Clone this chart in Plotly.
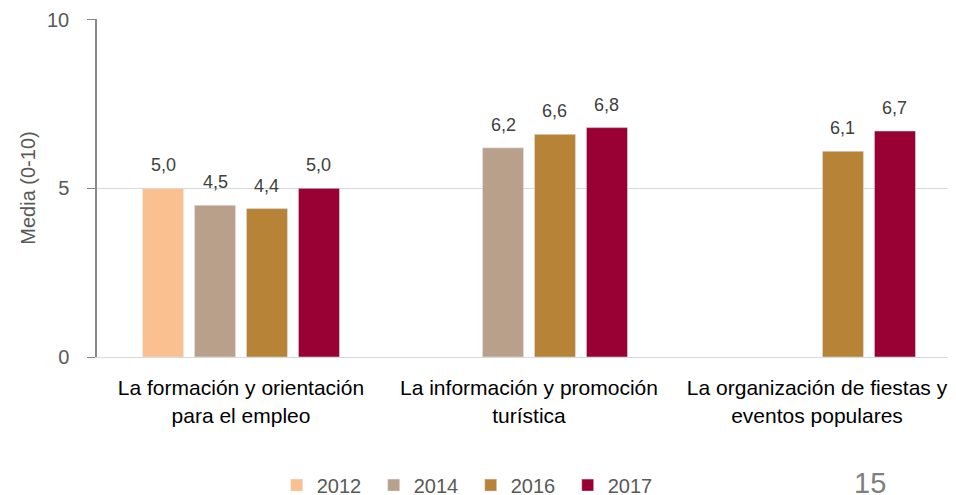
import plotly.graph_objects as go

categories = ["La formación y orientación<br>para el empleo",
              "La información y promoción<br>turística",
              "La organización de fiestas y<br>eventos populares"]
years = ["2012", "2014", "2016", "2017"]
values = {
    "2012": [5.0, None, None],
    "2014": [4.5, 6.2, None],
    "2016": [4.4, 6.6, 6.1],
    "2017": [5.0, 6.8, 6.7],
}
colors = {"2012": "#FAC090", "2014": "#B8A08A", "2016": "#B78336", "2017": "#990033"}

FONT = "Liberation Sans"

# page has 8px body margin, so the figure is shifted by 8px
W, H = 953, 510
ML, MR, MT, MB = 89, 0, 11, 161
BARGAP = 0.278

fig = go.Figure()
for yr in years:
    fig.add_trace(go.Bar(
        name=yr, x=categories, y=values[yr],
        marker=dict(color=colors[yr]),
    ))

# data labels above the bars
cat_w = (W - ML - MR) / len(categories)
slot = (1 - BARGAP) * cat_w / len(years)
for i, yr in enumerate(years):
    for cat, v in zip(categories, values[yr]):
        if v is None:
            continue
        fig.add_annotation(x=cat, y=v, xref="x", yref="y",
                           text=f"{v:.1f}".replace(".", ","),
                           xshift=(i - (len(years) - 1) / 2) * slot, yshift=11,
                           yanchor="bottom", showarrow=False,
                           font=dict(size=18, color="#404040", family=FONT))

fig.update_layout(
    width=W, height=H,
    margin=dict(l=ML, r=MR, t=MT, b=MB),
    barmode="group", bargap=BARGAP, bargroupgap=0.21,
    plot_bgcolor="white", paper_bgcolor="white",
    font=dict(family=FONT, color="#595959"),
    showlegend=True,
    legend=dict(orientation="h", x=0.208, xanchor="left", y=-0.379, yanchor="middle",
                font=dict(size=20, color="#595959"), traceorder="normal",
                itemwidth=30, entrywidth=52),
    yaxis=dict(range=[0, 10.02], tickvals=[0, 5, 10], showgrid=True, gridcolor="#D9D9D9",
               gridwidth=1, showline=True, linecolor="#898989", linewidth=1.5,
               ticks="outside", ticklen=8, tickcolor="#898989", ticklabelstandoff=14,
               tickfont=dict(size=20, color="#595959"),
               title=dict(text="Media (0-10)", font=dict(size=20, color="#595959"), standoff=6),
               zeroline=False),
    xaxis=dict(showline=True, linecolor="#D9D9D9", linewidth=1, ticks="",
               ticklabelstandoff=12,
               tickfont=dict(size=21, color="#000000")),
)

# page number
fig.add_annotation(text="15", xref="paper", yref="paper", x=0.895, y=-0.373,
                   xanchor="center", yanchor="middle", showarrow=False,
                   font=dict(size=29, color="#808080", family=FONT))

fig.write_html("out.html")
